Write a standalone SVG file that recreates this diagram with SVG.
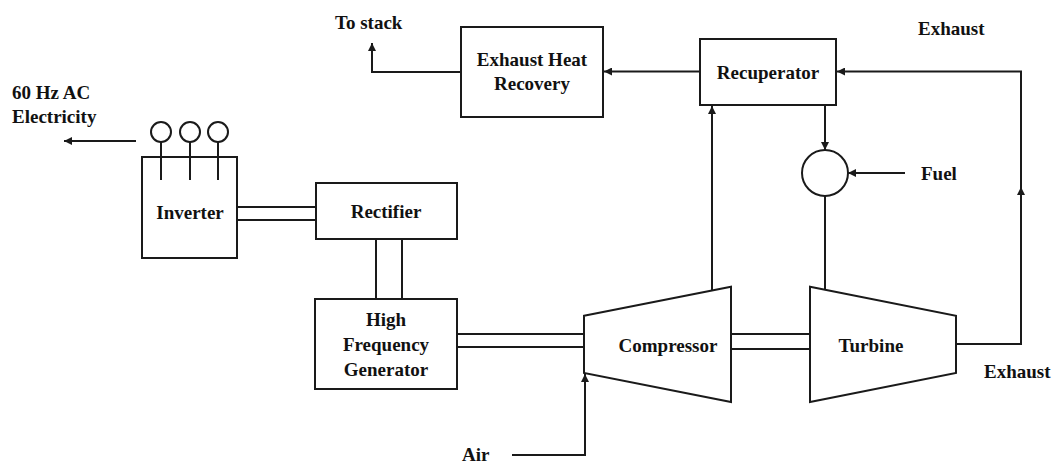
<svg xmlns="http://www.w3.org/2000/svg" width="1059" height="464" viewBox="0 0 1059 464">
<style>
.b{fill:#fff;stroke:#1a1a1a;stroke-width:2}
.l{fill:none;stroke:#1a1a1a;stroke-width:2}
.t{font-family:"Liberation Serif","Times New Roman",serif;font-weight:bold;font-size:19px;fill:#111}
.c{text-anchor:middle}
</style>
<defs>
<marker id="ar" viewBox="0 0 10 10" refX="10" refY="5" markerWidth="9" markerHeight="8" markerUnits="userSpaceOnUse" orient="auto">
<path d="M0,0 L10,5 L0,10 z" fill="#1a1a1a"/>
</marker>
</defs>
<rect width="1059" height="464" fill="#fff"/>
<g id="connectors">
<path class="l" d="M700,71.5 H604" marker-end="url(#ar)"/>
<path class="l" d="M461,72 H372 V43" marker-end="url(#ar)"/>
<path class="l" d="M956,344 H1021 V187" marker-end="url(#ar)"/>
<path class="l" d="M1021,190 V71.5 H837" marker-end="url(#ar)"/>
<path class="l" d="M712,290 V106" marker-end="url(#ar)"/>
<path class="l" d="M825,105 V150" marker-end="url(#ar)"/>
<path class="l" d="M905,173 H848" marker-end="url(#ar)"/>
<path class="l" d="M825,196 V289.5"/>
<path class="l" d="M512,455 H585 V374" marker-end="url(#ar)"/>
<path class="l" d="M136,141 H64" marker-end="url(#ar)"/>
<path class="l" d="M237,207 H316 M237,220 H316"/>
<path class="l" d="M376,239 V299 M402,239 V299"/>
<path class="l" d="M457,334 H584 M457,347 H584"/>
<path class="l" d="M731,334 H810 M731,349 H810"/>
</g>
<g id="inverter">
<rect class="b" x="142" y="157" width="95" height="101"/>
<path class="l" d="M161,142 V180 M190,142 V180 M218,142 V180"/>
<circle class="b" cx="161" cy="132" r="10"/>
<circle class="b" cx="190" cy="132" r="10"/>
<circle class="b" cx="218" cy="132" r="10"/>
<text class="t c" x="190" y="219">Inverter</text>
</g>
<g id="rectifier">
<rect class="b" x="316" y="183" width="141" height="56"/>
<text class="t c" x="386" y="218">Rectifier</text>
</g>
<g id="generator">
<rect class="b" x="315" y="299" width="142" height="90"/>
<text class="t c" x="386" y="326">High</text>
<text class="t c" x="386" y="351">Frequency</text>
<text class="t c" x="386" y="376">Generator</text>
</g>
<g id="ehr">
<rect class="b" x="461" y="27" width="142" height="90"/>
<text class="t c" x="532" y="66">Exhaust Heat</text>
<text class="t c" x="532" y="90">Recovery</text>
</g>
<g id="recuperator">
<rect class="b" x="700" y="39" width="136" height="66"/>
<text class="t c" x="768" y="79">Recuperator</text>
</g>
<g id="combustor">
<circle class="b" cx="825" cy="173" r="23"/>
</g>
<g id="compressor">
<polygon class="b" points="584,315.7 731,286.7 731,402 584,373"/>
<text class="t c" x="668" y="352">Compressor</text>
</g>
<g id="turbine">
<polygon class="b" points="810,286.7 956,315.7 956,373 810,402"/>
<text class="t c" x="871" y="352">Turbine</text>
</g>
<g id="labels">
<text class="t" x="335" y="29">To stack</text>
<text class="t" x="918" y="35">Exhaust</text>
<text class="t" x="12" y="99">60 Hz AC</text>
<text class="t" x="12" y="123">Electricity</text>
<text class="t" x="921" y="180">Fuel</text>
<text class="t" x="984" y="378">Exhaust</text>
<text class="t" x="462" y="461">Air</text>
</g>
</svg>
